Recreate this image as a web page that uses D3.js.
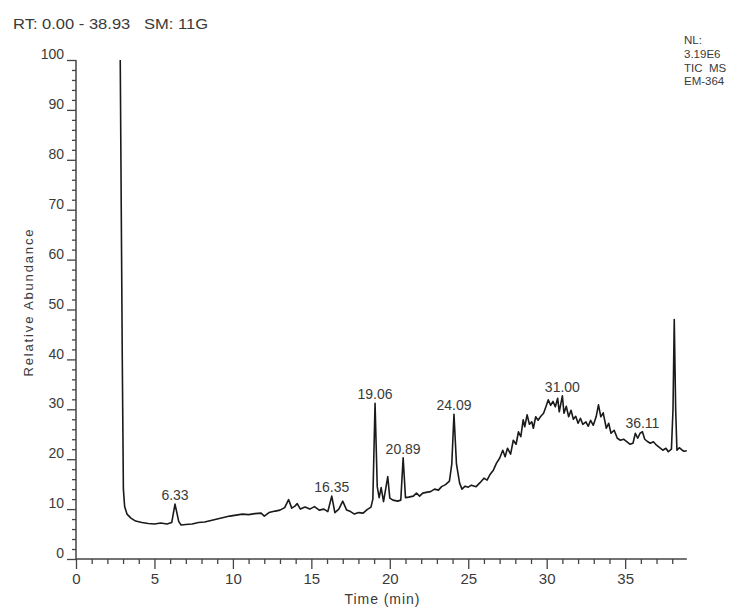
<!DOCTYPE html>
<html>
<head>
<meta charset="utf-8">
<script src="https://cdn.jsdelivr.net/npm/d3@7"></script>
<style>
    body { margin: 0; background: #fff; }
    text { font-family: Arial, "Liberation Sans", sans-serif; fill: #3a3a3a; }
</style>
</head>
<body>
<div id="chromVis"></div>
<script>

// chromatogram trace (time in min, relative abundance)
let times = [2.82, 2.95, 3.02, 3.1, 3.25, 3.5, 3.8, 4.2, 4.6, 5.0, 5.4, 5.8, 6.1, 6.31, 6.55, 6.7, 7.0, 7.4, 7.8, 8.2,
    8.6, 9.0, 9.4, 9.8, 10.2, 10.6, 11.0, 11.4, 11.8, 12.0, 12.3, 12.7, 13.0, 13.3, 13.55, 13.75, 13.95, 14.1, 14.3, 14.6,
    14.9, 15.2, 15.5, 15.8, 16.05, 16.3, 16.5, 16.75, 17.0, 17.25, 17.5, 17.75, 18.0, 18.3, 18.55, 18.8, 18.92, 19.06, 19.2, 19.32,
    19.45, 19.6, 19.87, 20.0, 20.2, 20.5, 20.7, 20.85, 21.0, 21.2, 21.5, 21.7, 21.9, 22.1, 22.4, 22.6, 22.85, 23.1, 23.3, 23.55,
    23.8, 23.95, 24.09, 24.25, 24.45, 24.6, 24.8, 25.0, 25.2, 25.5, 25.75, 26.0, 26.2, 26.4, 26.6, 26.8, 27.0, 27.2, 27.35, 27.5,
    27.7, 27.87, 28.05, 28.2, 28.35, 28.5, 28.6, 28.75, 28.9, 29.05, 29.15, 29.3, 29.45, 29.6, 29.8, 29.95, 30.1, 30.25, 30.4, 30.55,
    30.7, 30.8, 31.0, 31.1, 31.25, 31.4, 31.55, 31.7, 31.85, 32.0, 32.15, 32.3, 32.5, 32.65, 32.8, 32.97, 33.15, 33.3, 33.45, 33.6,
    33.8, 33.95, 34.1, 34.3, 34.5, 34.7, 34.9, 35.1, 35.3, 35.5, 35.65, 35.8, 35.95, 36.1, 36.25, 36.4, 36.6, 36.8, 37.0, 37.2,
    37.4, 37.6, 37.75, 37.95, 38.05, 38.13, 38.22, 38.3, 38.45, 38.6, 38.75, 38.93];

let abundance = [100, 40, 14, 10.5, 9, 8.2, 7.6, 7.3, 7.1, 7.0, 7.2, 7.0, 7.3, 11.0, 7.5, 6.8, 6.9, 7.0, 7.3, 7.4,
    7.7, 8.0, 8.3, 8.6, 8.8, 9.0, 8.9, 9.1, 9.2, 8.6, 9.3, 9.6, 9.8, 10.3, 11.9, 10.2, 10.6, 11.1, 10.0, 10.4,
    10.0, 10.5, 9.8, 10.0, 9.5, 12.6, 9.3, 10.0, 11.6, 9.8, 9.5, 9.0, 9.3, 9.2, 9.9, 10.4, 12, 31.2, 14.5, 12.3,
    14.3, 11.5, 16.5, 12.2, 11.8, 11.6, 11.8, 20.3, 12.3, 12.4, 12.6, 13.2, 12.6, 13.2, 13.4, 13.5, 14.0, 13.8, 14.5, 14.9,
    15.6, 19, 29.0, 19, 15.2, 14.0, 14.6, 14.4, 14.8, 14.5, 15.3, 16.2, 15.8, 17.0, 17.8, 19.2, 20.2, 21.8, 20.5, 22.2,
    21.0, 23.8, 23.0, 25.5, 24.5, 27.9, 26.5, 28.9, 27.0, 27.5, 26.2, 28.5, 27.8, 28.5, 29.2, 30.5, 31.9, 30.8, 31.6, 30.5,
    32.2, 29.5, 32.7, 29.2, 30.6, 28.5, 29.8, 28.0, 28.6, 27.2, 28.2, 27.0, 27.5, 26.6, 27.8, 26.8, 28.5, 30.9, 28.5, 29.3,
    26.2, 27.2, 25.2, 25.8, 24.2, 23.8, 24.0, 23.5, 23.0, 23.2, 25.2, 24.2, 25.2, 25.5, 24.0, 23.6, 23.2, 23.5, 22.8, 22.3,
    21.8, 22.2, 21.5, 22.0, 30, 48.0, 30, 21.8, 22.3, 21.9, 21.6, 21.7];

// labelled peaks
let peakLabels = ["6.33", "16.35", "19.06", "20.89", "24.09", "31.00", "36.11"];
let peakTimes = [6.31, 16.3, 19.06, 20.85, 24.09, 31.0, 36.1];
let peakHeights = [11.0, 12.6, 31.2, 20.3, 29.0, 32.7, 25.5];

let infoLines = ["NL:", "3.19E6", "TIC  MS", "EM-364"];
let headerText = "RT: 0.00 - 38.93   SM: 11G";

let width = 743,
    height = 608;

let margin = {top: 60, left: 76, bottom: 49};

let x = d3.scaleLinear()
    .domain([0, 38.93])
    .range([margin.left, margin.left + 38.93 * 15.69]);

let y = d3.scaleLinear()
    .domain([0, 100])
    .range([height - margin.bottom, margin.top]);

let svg = d3.select("#chromVis").append("svg")
    .attr("width", width)
    .attr("height", height);

let trace = times.map((t, i) => ({t: t, v: abundance[i]}));

// axes
let yAxis = d3.axisLeft(y)
    .tickValues(d3.range(0, 101, 10))
    .tickSize(9)
    .tickFormat(d3.format("d"));

let yMinor = d3.axisLeft(y)
    .tickValues(d3.range(0, 101, 2).filter(d => d % 10 != 0))
    .tickSize(4)
    .tickFormat("");

let xAxis = d3.axisBottom(x)
    .tickValues(d3.range(0, 36, 5))
    .tickSize(10)
    .tickFormat(d3.format("d"));

let xMinor = d3.axisBottom(x)
    .tickValues(d3.range(1, 39, 1).filter(d => d % 5 != 0))
    .tickSize(5)
    .tickFormat("");

function styleAxis(g) {
    g.select(".domain").remove();
    g.selectAll("line").attr("stroke", "#444").attr("stroke-width", 1.3);
    g.selectAll("text").attr("font-size", 14).attr("fill", "#4a4a4a");
}

svg.append("g")
    .attr("transform", "translate(" + margin.left + ",0)")
    .call(yAxis)
    .call(styleAxis)
    .selectAll("text")
    .attr("x", -12)
    .attr("dy", "-0.1em");

svg.append("g")
    .attr("transform", "translate(" + margin.left + ",0)")
    .call(yMinor)
    .call(styleAxis);

svg.append("g")
    .attr("transform", "translate(0," + y(0) + ")")
    .call(xAxis)
    .call(styleAxis)
    .selectAll("text")
    .attr("font-size", 15)
    .attr("y", 14);

svg.append("g")
    .attr("transform", "translate(0," + y(0) + ")")
    .call(xMinor)
    .call(styleAxis);

// axis lines
svg.append("line")
    .attr("x1", x(0)).attr("x2", x(0))
    .attr("y1", y(0)).attr("y2", y(100))
    .attr("stroke", "#444").attr("stroke-width", 1.5);

svg.append("line")
    .attr("x1", x(0)).attr("x2", x(38.93))
    .attr("y1", y(0)).attr("y2", y(0))
    .attr("stroke", "#444").attr("stroke-width", 1.5);

// trace
let line = d3.line()
    .x(d => x(d.t))
    .y(d => y(d.v));

svg.append("path")
    .datum(trace)
    .attr("d", line)
    .attr("fill", "none")
    .attr("stroke", "#1a1a1a")
    .attr("stroke-width", 1.6)
    .attr("stroke-linejoin", "round");

// peak labels
svg.selectAll(".peak")
    .data(peakLabels)
    .enter().append("text")
    .attr("class", "peak")
    .attr("x", (d, i) => x(peakTimes[i]))
    .attr("y", (d, i) => y(peakHeights[i]) - 4)
    .attr("text-anchor", "middle")
    .attr("font-size", 14)
    .text(d => d);

// titles
svg.append("text")
    .attr("x", x(19.5))
    .attr("y", 604)
    .attr("text-anchor", "middle")
    .attr("font-size", 14)
    .attr("textLength", 75)
    .text("Time (min)");

svg.append("text")
    .attr("transform", "translate(33,303) rotate(-90)")
    .attr("text-anchor", "middle")
    .attr("font-size", 13)
    .attr("textLength", 147)
    .text("Relative Abundance");

svg.append("text")
    .attr("x", 13)
    .attr("y", 29)
    .attr("font-size", 14)
    .attr("textLength", 195)
    .attr("lengthAdjust", "spacingAndGlyphs")
    .attr("fill", "#3a3f4f")
    .style("white-space", "pre")
    .text(headerText);

svg.selectAll(".info")
    .data(infoLines)
    .enter().append("text")
    .attr("class", "info")
    .attr("x", 684)
    .attr("y", (d, i) => [44, 58, 72, 85][i])
    .attr("font-size", 11.5)
    .style("white-space", "pre")
    .text(d => d);

</script>
</body>
</html>
